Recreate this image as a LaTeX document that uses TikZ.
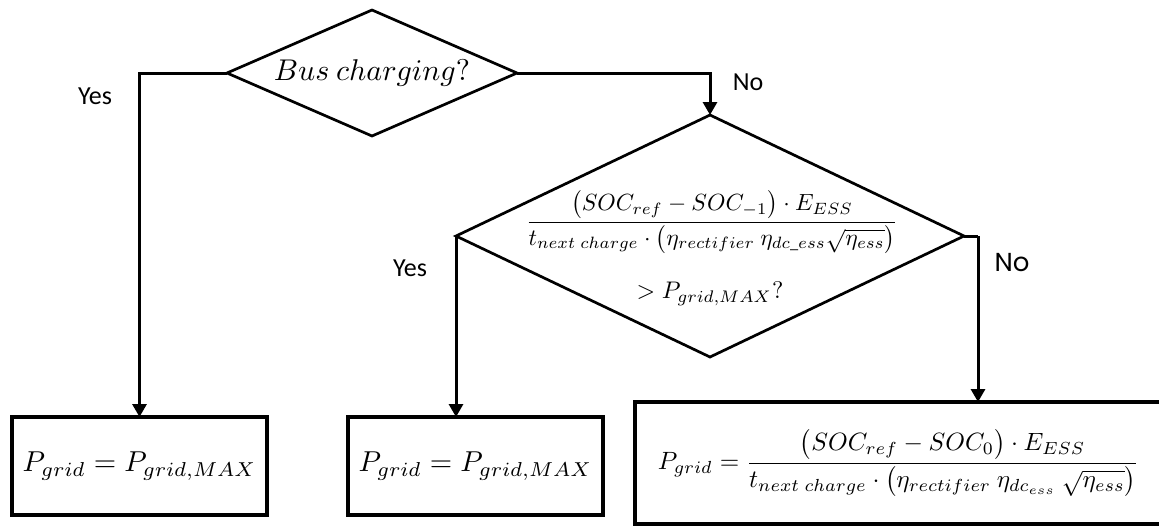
\documentclass[tikz,border=0pt]{standalone}
\usepackage{amsmath}
\usepackage{graphicx}
\usepackage{fontspec}
\setmainfont{Carlito}
\newfontfamily\roundfont{Poppins}
\usetikzlibrary{shapes.geometric,arrows.meta,shadows}
\begin{document}
\begin{tikzpicture}[x=0.5pt,y=-0.5pt,
  decision/.style={draw, diamond, line width=1.35pt, inner sep=0pt, outer sep=0pt},
  result/.style={draw, rectangle, line width=2pt, inner sep=0pt, outer sep=0pt, fill=white,
    drop shadow={shadow xshift=0.8pt, shadow yshift=-0.8pt, opacity=0.3, fill=black}},
  flow/.style={line width=1.5pt, -{Triangle[width=7pt,length=6.5pt]}},
  branch/.style={font=\fontsize{13}{15}\selectfont, inner sep=0pt},
  eqn/.style={inner sep=0pt}]
\clip (0,0) rectangle (1159,527);

% decisions
\node[decision, aspect=2.3, minimum width=145pt, minimum height=63pt] (d1) at (372,73)
  {\scalebox{1.5}{$Bus\ charging?$}};
\node[decision, minimum width=254pt, minimum height=121pt] (d2) at (710,236) {};
\node[eqn] (q2) at (712,222)
  {\scalebox{1.17}{$\dfrac{\bigl(SOC_{ref}-SOC_{-1}\bigr)\cdot E_{ESS}}{t_{next\ charge}\cdot\bigl(\eta_{rectifier}\ \eta_{dc\_ess}\sqrt{\eta_{ess}}\bigr)}$}};
\node[eqn] (c2) at (710,294) {\scalebox{1.2}{$> P_{grid,MAX}?$}};

% outcomes
\node[result, minimum width=127.5pt, minimum height=49pt] (b1) at (139.5,466)
  {\scalebox{1.44}{$P_{grid}=P_{grid,MAX}$}};
\node[result, minimum width=127.5pt, minimum height=49pt] (b2) at (475.5,466)
  {\scalebox{1.44}{$P_{grid}=P_{grid,MAX}$}};
\node[result, minimum width=263.5pt, minimum height=61pt] (b3) at (898.5,463)
  {\scalebox{1.25}{$P_{grid}=\dfrac{\bigl(SOC_{ref}-SOC_{0}\bigr)\cdot E_{ESS}}{t_{next\ charge}\cdot\bigl(\eta_{rectifier}\ \eta_{dc_{ess}}\ \sqrt{\eta_{ess}}\bigr)}$}};

% connectors
\coordinate (n2) at ([xshift=7pt]d2.east);
\draw[flow] (d1.west) -| (b1.north);
\draw[flow] (d1.east) -| (d2.north);
\draw[flow] (d2.west) -- (d2.west |- b2.north);
\draw[line width=1.5pt] (d2.east) -- (n2);
\draw[flow] (n2) -- (n2 |- b3.north);

% branch labels
\node[branch] (y1) at (95,96) {Yes};
\node[branch] (n1) at (748,82) {No};
\node[branch] (y2) at (410,268) {Yes};
\node[branch] (l2) at (1012,263) {\roundfont No};
\end{tikzpicture}
\end{document}
